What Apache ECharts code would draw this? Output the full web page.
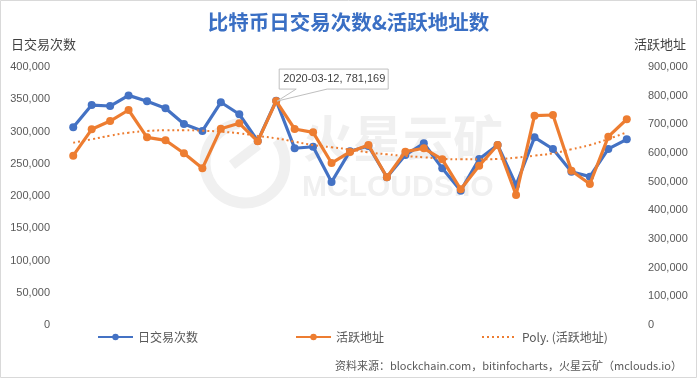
<!DOCTYPE html>
<html><head><meta charset="utf-8">
<script src="https://cdn.jsdelivr.net/npm/echarts@6/dist/echarts.min.js"></script>
<style>html,body{margin:0;padding:0;background:#fff}#c{width:697px;height:378px}</style>
</head><body><div id="c"></div>
<script>
const dates = ['2020-03-01','2020-03-02','2020-03-03','2020-03-04','2020-03-05','2020-03-06','2020-03-07','2020-03-08','2020-03-09','2020-03-10','2020-03-11','2020-03-12','2020-03-13','2020-03-14','2020-03-15','2020-03-16','2020-03-17','2020-03-18','2020-03-19','2020-03-20','2020-03-21','2020-03-22','2020-03-23','2020-03-24','2020-03-25','2020-03-26','2020-03-27','2020-03-28','2020-03-29','2020-03-30','2020-03-31'];
const txCount = [306500,341000,339500,356000,346800,336000,311600,300800,345300,326700,285300,347800,274000,276400,221700,269500,277500,229000,263600,281700,242900,208300,257400,279100,217100,291000,272900,237700,230000,273000,287900];
const activeAddr = [590600,682600,711600,750000,654700,644300,598900,546600,684800,703500,640700,781169,683700,672100,565100,603500,627900,515200,604600,616400,578000,473300,555700,627900,453500,730100,732600,538300,491900,657000,717600];
const polyTrend = [635900,647800,660400,670800,676700,679200,679200,677800,674300,668700,659300,651300,639400,627900,619900,612200,602400,595500,589500,585000,580100,578000,578000,579100,583600,590600,599000,612900,627900,648800,672200];
const leftTicks = {min:0, max:400000, step:50000};
const rightTicks = {min:0, max:900000, step:100000};
const annotIndex = 11;

const chart = echarts.init(document.getElementById('c'), null, {renderer:'canvas'});
const fmt = v => v.toLocaleString('en-US');
const tickFont = {color:'#595959', fontSize:11, fontFamily:'Liberation Sans, Arial, sans-serif'};
const cjk = '"Noto Sans CJK SC", "Microsoft YaHei", sans-serif';

const option = {
  animation:false,
  backgroundColor:'#ffffff',
  title:[
    {text:'比特币日交易次数&活跃地址数', left:'center', top:7, textStyle:{color:'#3A6FC4', fontSize:20.5, fontWeight:'bold', fontFamily:cjk}},
    {text:'日交易次数', left:6, top:33, textStyle:{color:'#404040', fontSize:13, fontWeight:'normal', fontFamily:cjk}},
    {text:'活跃地址', right:6, top:33, textStyle:{color:'#404040', fontSize:13, fontWeight:'normal', fontFamily:cjk}},
    {text:'资料来源：blockchain.com，bitinfocharts，火星云矿（mclouds.io）', right:10, top:355, textStyle:{color:'#595959', fontSize:11, fontWeight:'normal', fontFamily:cjk}}
  ],
  legend:{
    left:92, top:326, itemWidth:35, itemHeight:8, itemGap:97,
    textStyle:{color:'#595959', fontSize:12, fontFamily:cjk},
    data:['日交易次数','活跃地址',{name:'Poly. (活跃地址)', itemStyle:{opacity:0}}]
  },
  grid:{left:64, right:61, top:67, bottom:53},
  xAxis:{type:'category', data:dates, boundaryGap:true,
    axisLine:{show:false}, axisTick:{show:false}, axisLabel:{show:false}, splitLine:{show:false}},
  yAxis:[
    {type:'value', min:leftTicks.min, max:leftTicks.max, interval:leftTicks.step,
      axisLine:{show:false}, axisTick:{show:false}, splitLine:{show:false},
      axisLabel:Object.assign({formatter:fmt, margin:14}, tickFont)},
    {type:'value', min:rightTicks.min, max:rightTicks.max, interval:rightTicks.step,
      axisLine:{show:false}, axisTick:{show:false}, splitLine:{show:false},
      axisLabel:Object.assign({formatter:fmt, margin:12}, tickFont)}
  ],
  series:[
    {name:'日交易次数', type:'line', yAxisIndex:0, data:txCount, z:3,
      symbol:'circle', symbolSize:8, showSymbol:true,
      lineStyle:{color:'#4472C4', width:3.2}, itemStyle:{color:'#4472C4'}},
    {name:'活跃地址', type:'line', yAxisIndex:1, data:activeAddr, z:4,
      symbol:'circle', symbolSize:8,
      lineStyle:{color:'#ED7D31', width:3.2}, itemStyle:{color:'#ED7D31'}},
    {name:'Poly. (活跃地址)', type:'line', yAxisIndex:1, data:polyTrend, z:5,
      symbol:'none', smooth:true,
      lineStyle:{color:'#ED7D31', width:2, type:[2,3]}, itemStyle:{color:'#ED7D31'}}
  ],
  graphic:[
    {type:'rect', shape:{x:0.5, y:0.5, width:696, height:377}, style:{fill:'none', stroke:'#d9d9d9', lineWidth:1}, z:0, silent:true},
    {type:'arc', shape:{cx:245, cy:163, r:40, startAngle:-Math.PI*0.2, endAngle:Math.PI*1.45}, style:{fill:'none', stroke:'#f0f0f0', lineWidth:11}, z:0, silent:true},
    {type:'line', shape:{x1:232, y1:165, x2:258, y2:145}, style:{stroke:'#f0f0f0', lineWidth:10}, z:0, silent:true},
    {type:'text', left:303, top:113, style:{text:'火星云矿', fill:'#f0f0f0', font:'bold 50px "Noto Sans CJK SC", sans-serif'}, z:0, silent:true},
    {type:'text', left:302, top:173, style:{text:'MCLOUDS.IO', fill:'#f0f0f0', font:'bold 30px "Liberation Sans", Arial, sans-serif'}, z:0, silent:true}
  ]
};
chart.setOption(option);

// callout annotation anchored to the data point
const p = chart.convertToPixel({xAxisIndex:0, yAxisIndex:1}, [annotIndex, activeAddr[annotIndex]]);
const bx = p[0] + 3, by = p[1] - 32, bw = 109, bh = 20;
chart.setOption({graphic: option.graphic.concat([
  {type:'polygon', shape:{points:[[bx,by],[bx+bw,by],[bx+bw,by+bh],[bx+48,by+bh],[p[0]+1,p[1]],[bx+17,by+bh],[bx,by+bh]]},
    style:{fill:'#ffffff', stroke:'#bfbfbf', lineWidth:1}, z:10, silent:true},
  {type:'text', x:bx+4, y:by+4, style:{text:dates[annotIndex]+', '+fmt(activeAddr[annotIndex]), fill:'#404040', font:'11px "Liberation Sans", Arial, sans-serif'}, z:11, silent:true}
])});
</script></body></html>
